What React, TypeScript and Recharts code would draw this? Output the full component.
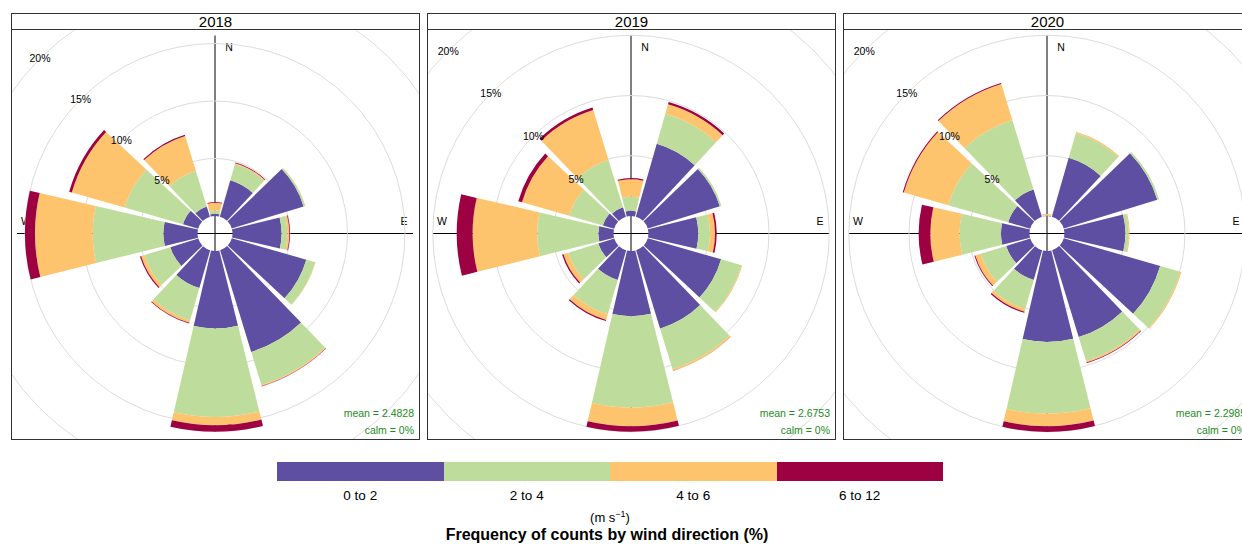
import React from 'react';
import { RadialBarChart, RadialBar, PolarGrid, PolarAngleAxis, PolarRadiusAxis } from 'recharts';

// wind direction sectors, clockwise from north
const directions = [0, 30, 60, 90, 120, 150, 180, 210, 240, 270, 300, 330];

const speedBins = ['0 to 2', '2 to 4', '4 to 6', '6 to 12'];
const binColours = ['#5E4FA2', '#BEDD9C', '#FEC36D', '#9E0142'];

const years = ['2018', '2019', '2020'];
const meanSpeeds = ['2.4828', '2.6753', '2.2985'];
const calmShares = ['0%', '0%', '0%'];

const gridTicks = [5, 10, 15, 20, 25];

// frequency (%) per direction for each speed bin
const ws2018_0to2 = [0.2, 3.3, 6.54, 4.27, 6.74, 9.25, 6.74, 3.41, 2.54, 2.97, 1.37, 0.94];
const ws2018_2to4 = [0.3, 1.44, 0.15, 0.5, 0.81, 3.0, 7.68, 2.93, 2.36, 6.15, 5.28, 3.24];
const ws2018_4to6 = [0.65, 0.1, 0.01, 0.17, 0.03, 0.1, 0.73, 0.22, 0.3, 5.01, 4.78, 3.17];
const ws2018_6to12 = [0.07, 0.06, 0, 0.06, 0, 0.03, 0.57, 0.06, 0.1, 0.87, 0.24, 0.1];

const ws2019_0to2 = [0.43, 6.3, 6.26, 4.13, 6.33, 6.81, 5.41, 2.56, 1.39, 1.26, 0.98, 0.82];
const ws2019_2to4 = [1.16, 2.6, 0.13, 0.97, 1.76, 3.5, 7.57, 2.96, 2.61, 5.07, 2.9, 4.11];
const ws2019_4to6 = [1.46, 0.8, 0.01, 0.42, 0.07, 0.14, 1.56, 0.49, 0.41, 5.36, 4.08, 4.33];
const ws2019_6to12 = [0.1, 0.19, 0, 0.14, 0, 0.02, 0.46, 0.1, 0.12, 1.32, 0.32, 0.22];

const ws2020_0to2 = [0.03, 5.08, 8.12, 5.05, 8.32, 7.54, 7.54, 2.56, 2.09, 2.37, 1.9, 2.37];
const ws2020_2to4 = [0.03, 2.15, 0.16, 0.28, 1.73, 2.09, 5.95, 2.49, 2.21, 3.43, 5.18, 6.02];
const ws2020_4to6 = [0.1, 0.11, 0, 0.08, 0.1, 0.12, 1.05, 0.25, 0.47, 2.43, 3.83, 3.13];
const ws2020_6to12 = [0.01, 0, 0, 0, 0, 0.05, 0.47, 0.1, 0.08, 0.97, 0.09, 0.08];

const yearBins = [
  [ws2018_0to2, ws2018_2to4, ws2018_4to6, ws2018_6to12],
  [ws2019_0to2, ws2019_2to4, ws2019_4to6, ws2019_6to12],
  [ws2020_0to2, ws2020_2to4, ws2020_4to6, ws2020_6to12]
];

const buildRows = (bins: number[][]) =>
  directions.map((dir, i) => {
    const row: Record<string, number> = { dir };
    bins.forEach((b, j) => {
      row[`b${j}`] = b[i];
    });
    return row;
  });

const FONT = '"Liberation Sans", Arial, Helvetica, sans-serif';
const PLOT_W = 407;
const PLOT_H = 409;
const CX = 203;
const CY = 203.5;
const HOLE = 17.5;
// pixels per percent differ slightly between panels
const pxPerPct = [11.5, 12.05, 12.05];

const PercentTick = (props: any) => {
  const { x, y, payload } = props;
  return (
    <text x={x} y={y} textAnchor="middle" dominantBaseline="central" fontSize={10.5} fill="#000">
      {`${payload.value}%`}
    </text>
  );
};

const RosePanel = ({ index }: { index: number }) => {
  const rows = buildRows(yearBins[index]);
  const outer = HOLE + gridTicks[gridTicks.length - 1] * pxPerPct[index];
  return (
    <div
      style={{
        position: 'absolute',
        left: 11 + 416 * index,
        top: 13,
        width: 409,
        height: 427,
        border: '1px solid #333',
        boxSizing: 'border-box'
      }}
    >
      <div
        style={{
          height: 15,
          borderBottom: '1px solid #333',
          textAlign: 'center',
          fontSize: 15,
          lineHeight: '16px'
        }}
      >
        {years[index]}
      </div>
      <div style={{ position: 'relative', width: PLOT_W, height: PLOT_H, overflow: 'hidden' }}>
        <svg width={PLOT_W} height={PLOT_H} style={{ position: 'absolute', left: 0, top: 0 }}>
          <line x1={CX - 198} y1={CY} x2={CX + 198} y2={CY} stroke="#000" strokeWidth={1} />
          <line x1={CX} y1={CY - 198} x2={CX} y2={CY + 198} stroke="#000" strokeWidth={1} />
          <g fontSize={10.5} fill="#000" textAnchor="middle" dominantBaseline="central">
            <text x={CX + 14} y={CY - 187}>N</text>
            <text x={CX + 189} y={CY - 12.5}>E</text>
            <text x={CX + 14} y={CY + 187}>S</text>
            <text x={CX - 189} y={CY - 12.5}>W</text>
          </g>
        </svg>
        <div style={{ position: 'absolute', left: 0, top: 0 }}>
          <RadialBarChart
            width={PLOT_W}
            height={PLOT_H}
            data={rows}
            layout="centric"
            cx={CX}
            cy={CY}
            innerRadius={HOLE}
            outerRadius={outer}
            startAngle={75}
            endAngle={-285}
            barSize={27}
            margin={{ top: 0, right: 0, bottom: 0, left: 0 }}
          >
            <PolarGrid gridType="circle" radialLines={false} stroke="#dcdcdc" />
            <PolarAngleAxis dataKey="dir" type="category" tick={false} tickLine={false} axisLine={false} />
            <PolarRadiusAxis
              type="number"
              domain={[0, gridTicks[gridTicks.length - 1]]}
              ticks={gridTicks}
              angle={135}
              axisLine={false}
              tick={PercentTick}
            />
            {speedBins.map((bin, j) => (
              <RadialBar
                key={bin}
                dataKey={`b${j}`}
                stackId="ws"
                fill={binColours[j]}
                isAnimationActive={false}
              />
            ))}
          </RadialBarChart>
        </div>
        <div
          style={{
            position: 'absolute',
            right: 5,
            top: 375,
            textAlign: 'right',
            color: '#228B22',
            fontSize: 10.5,
            lineHeight: '16.5px'
          }}
        >
          <div>mean = {meanSpeeds[index]}</div>
          <div>calm = {calmShares[index]}</div>
        </div>
      </div>
    </div>
  );
};

export default function App() {
  const segW = 666 / speedBins.length;
  return (
    <div
      style={{
        position: 'relative',
        width: 1242,
        height: 544,
        overflow: 'hidden',
        background: '#fff',
        fontFamily: FONT,
        color: '#000'
      }}
    >
      <style>{'body{margin:0}'}</style>
      {years.map((y, i) => (
        <RosePanel key={y} index={i} />
      ))}
      <div style={{ position: 'absolute', left: 277, top: 462, width: 666, height: 19, display: 'flex' }}>
        {binColours.map((c) => (
          <div key={c} style={{ flex: 1, background: c }} />
        ))}
      </div>
      {speedBins.map((bin, j) => (
        <div
          key={bin}
          style={{
            position: 'absolute',
            left: 277 + segW * j,
            width: segW,
            top: 488,
            textAlign: 'center',
            fontSize: 13.5,
            lineHeight: '16px'
          }}
        >
          {bin}
        </div>
      ))}
      <div
        style={{
          position: 'absolute',
          left: 510,
          width: 200,
          top: 506,
          textAlign: 'center',
          fontSize: 13,
          lineHeight: '17px'
        }}
      >
        (m s<sup style={{ fontSize: 9 }}>−1</sup>)
      </div>
      <div
        style={{
          position: 'absolute',
          left: 407,
          width: 400,
          top: 526,
          textAlign: 'center',
          fontSize: 16,
          fontWeight: 'bold',
          lineHeight: '18px'
        }}
      >
        Frequency of counts by wind direction (%)
      </div>
    </div>
  );
}
